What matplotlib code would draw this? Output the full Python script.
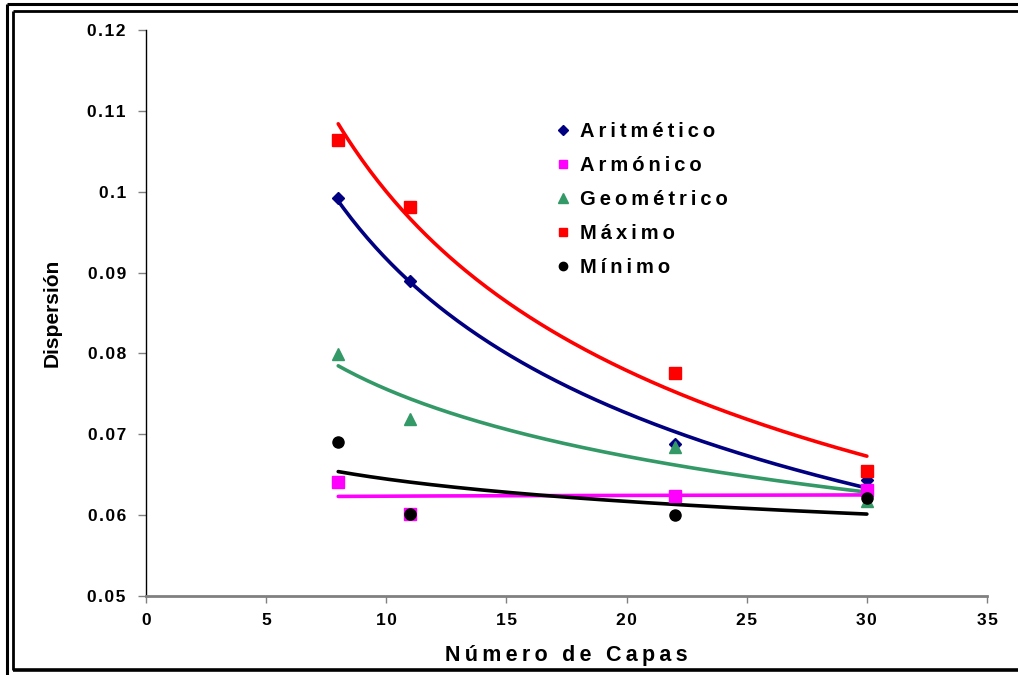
import numpy as np
import matplotlib
matplotlib.use("Agg")
import matplotlib.pyplot as plt
from matplotlib.lines import Line2D
from matplotlib.ticker import FuncFormatter

# Number of layers and dispersion measured for each averaging method
capas = [8, 11, 22, 30]
aritmetico = [0.0992, 0.0890, 0.0688, 0.0644]
armonico = [0.0641, 0.0601, 0.0624, 0.0631]
geometrico = [0.0799, 0.0719, 0.0684, 0.0618]
maximo = [0.1064, 0.0981, 0.0776, 0.0655]
minimo = [0.0690, 0.0601, 0.0600, 0.0621]

series_names = ["Aritmético", "Armónico", "Geométrico", "Máximo", "Mínimo"]
x_ticks = [0, 5, 10, 15, 20, 25, 30, 35]
y_ticks = [0.05, 0.06, 0.07, 0.08, 0.09, 0.10, 0.11, 0.12]

FONT = ["Liberation Sans", "DejaVu Sans"]
plt.rcParams["font.family"] = FONT
plt.rcParams["font.weight"] = "bold"


def spaced(text, gap="\u2009"):
    return gap.join(text)


fig = plt.figure(figsize=(10.18, 6.75), dpi=100)
ax = fig.add_axes([146 / 1018, 1 - 596 / 675, (987 - 146) / 1018, (596 - 30) / 675])

styles = [
    dict(color="#000080", marker="D", ms=6.5),
    dict(color="#FF00FF", marker="s", ms=8.5),
    dict(color="#339966", marker="^", ms=9),
    dict(color="#FF0000", marker="s", ms=8.5),
    dict(color="#000000", marker="o", ms=8),
]
data = [aritmetico, armonico, geometrico, maximo, minimo]

x = np.array(capas, dtype=float)
xs = np.linspace(x.min(), x.max(), 200)

# Power-law trend lines (linear fit in log-log space)
for vals, st in zip(data, styles):
    b, a = np.polyfit(np.log(x), np.log(vals), 1)
    ax.plot(xs, np.exp(a) * xs ** b, color=st["color"], lw=2.6,
            solid_capstyle="round", zorder=2)

handles = []
for vals, st, name in zip(data, styles, series_names):
    ax.plot(capas, vals, linestyle="none", marker=st["marker"], ms=st["ms"],
            color=st["color"], markeredgecolor=st["color"], zorder=3)
    handles.append(Line2D([], [], linestyle="none", marker=st["marker"],
                          ms=st["ms"] * 0.75, color=st["color"],
                          label=spaced(name)))

ax.set_xlim(0, 35)
ax.set_ylim(0.05, 0.12)
ax.set_xticks(x_ticks)
ax.set_yticks(y_ticks)
ax.xaxis.set_major_formatter(FuncFormatter(lambda v, p: spaced(f"{v:g}", "\u200a")))
ax.yaxis.set_major_formatter(FuncFormatter(lambda v, p: spaced(f"{v:g}", "\u200a")))

for side in ("top", "right"):
    ax.spines[side].set_visible(False)
ax.spines["left"].set_color("black")
ax.spines["left"].set_linewidth(1.0)
ax.spines["bottom"].set_color("#808080")
ax.spines["bottom"].set_linewidth(2.0)

ax.tick_params(axis="y", direction="out", length=6, width=1, color="#808080",
               pad=8.5, labelsize=12.5)
ax.tick_params(axis="x", direction="out", length=5, width=1, color="#808080",
               pad=7, labelsize=12.5)
for lbl in ax.get_xticklabels() + ax.get_yticklabels():
    lbl.set_fontweight("bold")

fig.text(566 / 1018, 1 - 655 / 675, spaced("Número de Capas"), ha="center",
         va="center", fontsize=15.5, fontweight="bold")
fig.text(52 / 1018, 1 - 313 / 675, "Dispersión", ha="center", va="center",
         rotation=90, fontsize=15, fontweight="bold")

leg = ax.legend(handles=handles, loc="upper left",
                bbox_to_anchor=(557 / 1018, 1 - 122 / 675),
                bbox_transform=fig.transFigure, frameon=False,
                prop=dict(family=FONT, weight="bold", size=14.5),
                handlelength=0.6, handletextpad=0.55, labelspacing=0.745,
                borderpad=0, borderaxespad=0)

# Double frame around the chart
frame = [
    ((7 / 1018, 7 / 1018), (0, 1 - 4 / 675), 2.2),
    ((7 / 1018, 1.0), (1 - 4 / 675, 1 - 4 / 675), 2.2),
    ((12.5 / 1018, 12.5 / 1018), (1 - 670 / 675, 1 - 10.5 / 675), 2.0),
    ((12.5 / 1018, 1.0), (1 - 10.5 / 675, 1 - 10.5 / 675), 2.0),
    ((12.5 / 1018, 1.0), (1 - 670 / 675, 1 - 670 / 675), 2.6),
]
for xx, yy, lw in frame:
    fig.add_artist(Line2D(xx, yy, color="black", lw=lw,
                          transform=fig.transFigure, solid_capstyle="butt"))

fig.savefig("out.png", dpi=100)
